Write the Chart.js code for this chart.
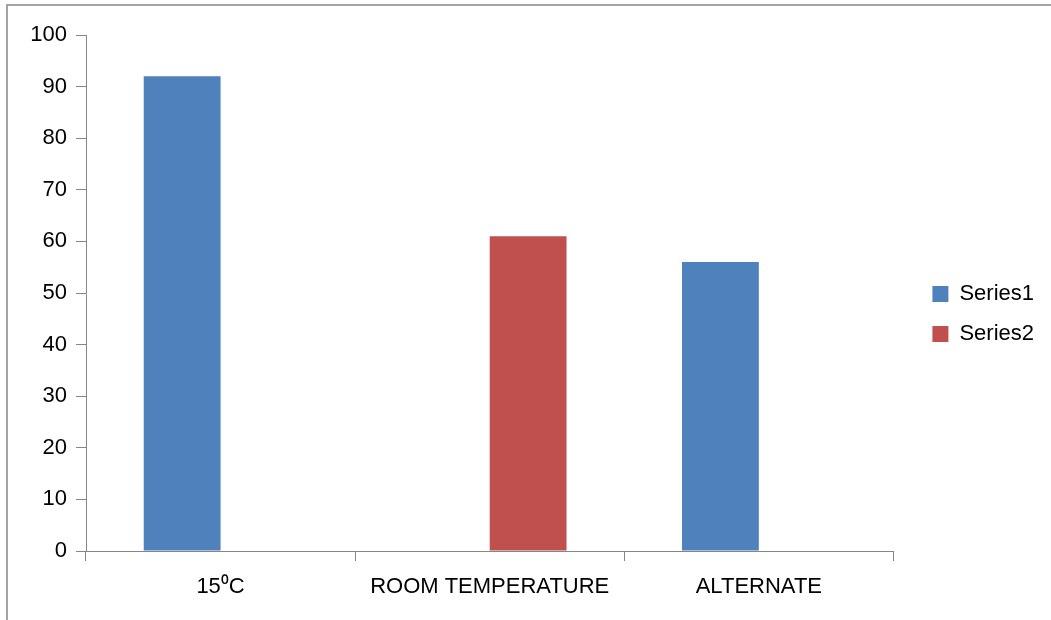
<!DOCTYPE html>
<html>
<head>
<meta charset="utf-8">
<script src="https://cdn.jsdelivr.net/npm/chart.js@4/dist/chart.umd.min.js"></script>
<style>
  html, body { margin: 0; padding: 0; background: #ffffff; }
  #wrap { width: 1051px; height: 620px; position: relative; }
</style>
</head>
<body>
<div id="wrap"><canvas id="c" width="1051" height="620"></canvas></div>
<script>
// Chart data
const categories = ['15\u2070C', 'ROOM TEMPERATURE', 'ALTERNATE'];
const series1 = [92, null, 56];
const series2 = [null, 61, null];
const seriesNames = ['Series1', 'Series2'];
const yTicks = { min: 0, max: 100, step: 10 };

const FONT = 'Liberation Sans, Arial, sans-serif';
const AXIS_GRAY = '#868686';

// Outer frame of the chart object
const framePlugin = {
  id: 'frame',
  beforeDraw(chart) {
    const ctx = chart.ctx;
    ctx.save();
    ctx.fillStyle = '#ffffff';
    ctx.fillRect(0, 0, chart.width, chart.height);
    ctx.strokeStyle = '#a3a3a3';
    ctx.lineWidth = 2;
    ctx.strokeRect(7, 5, chart.width + 50, chart.height + 50);
    ctx.restore();
  }
};

new Chart(document.getElementById('c'), {
  type: 'bar',
  data: {
    labels: categories,
    datasets: [
      { label: seriesNames[0], data: series1, backgroundColor: '#4f81bd', borderWidth: 0 },
      { label: seriesNames[1], data: series2, backgroundColor: '#c0504d', borderWidth: 0 }
    ]
  },
  options: {
    responsive: false,
    animation: false,
    devicePixelRatio: 1,
    layout: { padding: { top: 35, left: 0, right: 7, bottom: 27 } },
    datasets: {
      bar: { categoryPercentage: 0.571, barPercentage: 1.0 }
    },
    plugins: {
      tooltip: { enabled: false },
      legend: {
        position: 'right',
        align: 'center',
        labels: {
          boxWidth: 16,
          boxHeight: 16,
          padding: 18,
          color: '#000000',
          font: { family: FONT, size: 22 }
        }
      }
    },
    scales: {
      x: {
        grid: {
          offset: true,
          drawOnChartArea: false,
          drawTicks: true,
          tickLength: 10,
          color: AXIS_GRAY,
          tickColor: AXIS_GRAY
        },
        border: { display: true, color: AXIS_GRAY, width: 1 },
        ticks: {
          color: '#000000',
          font: { family: FONT, size: 22 },
          padding: 13,
          maxRotation: 0,
          autoSkip: false
        },
        afterFit(axis) { axis.height = 42; }
      },
      y: {
        min: yTicks.min,
        max: yTicks.max,
        grid: {
          drawOnChartArea: false,
          drawTicks: true,
          tickLength: 10,
          color: AXIS_GRAY,
          tickColor: AXIS_GRAY
        },
        border: { display: true, color: AXIS_GRAY, width: 1 },
        ticks: {
          stepSize: yTicks.step,
          color: '#000000',
          font: { family: FONT, size: 22 },
          padding: 9
        },
        afterFit(axis) { axis.width = 86; }
      },
      // empty spacer between the plot and the legend
      gap: {
        type: 'linear',
        position: 'right',
        display: true,
        grid: { display: false },
        border: { display: false },
        ticks: { display: false },
        afterFit(axis) { axis.width = 21; }
      }
    }
  },
  plugins: [framePlugin]
});
</script>
</body>
</html>
